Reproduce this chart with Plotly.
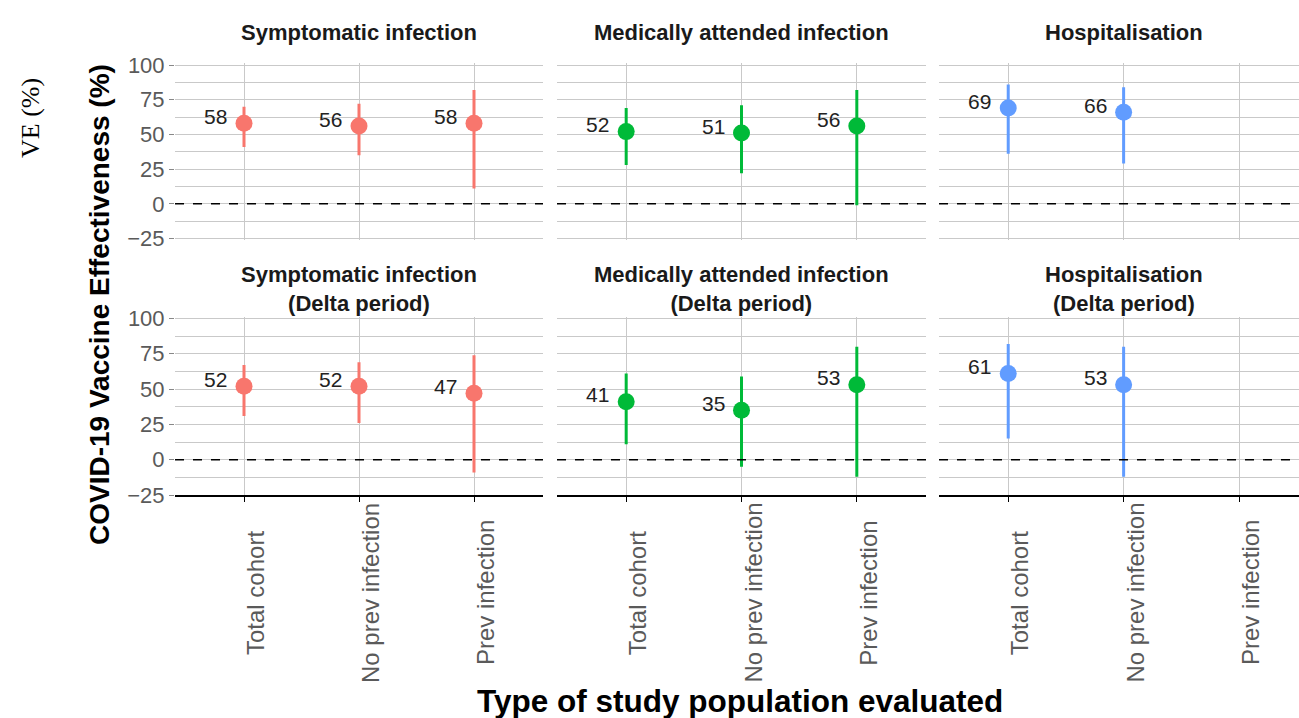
import plotly.graph_objects as go

# ---------------- data ----------------
categories = ["Total cohort", "No prev infection", "Prev infection"]
outcomes = ["Symptomatic infection", "Medically attended infection", "Hospitalisation"]
period_labels = ["", "(Delta period)"]
colors = ["#F8766D", "#00BA38", "#619CFF"]

# overall period: rows = outcome, cols = category
ve_all = [[58, 56, 58], [52, 51, 56], [69, 66, None]]
lo_all = [[41, 35, 11], [28, 22, -1], [36, 29, None]]
hi_all = [[70, 72, 82], [69, 71, 82], [86, 84, None]]

# Delta period
ve_delta = [[52, 52, 47], [41, 35, 53], [61, 53, None]]
lo_delta = [[31, 26, -9], [11, -5, -12], [15, -12, None]]
hi_delta = [[67, 69, 74], [61, 59, 80], [82, 80, None]]

y_ticks = [-25, 0, 25, 50, 75, 100]

# ---------------- layout geometry (pixels) ----------------
W, H = 1299, 718
col_px = [(175, 543), (557, 926), (939, 1299)]
row_px = [(63, 239.5), (316.5, 495)]
row_ranges = [[-25.72, 101.44], [-25.0, 101.4]]
x_ranges = [[-0.6, 2.6], [-0.6, 2.6], [-0.6, 2.52]]

FONT = "Arial, Liberation Sans, sans-serif"
GRID = "#c9c9c9"

def px_x(p):
    return p / W

def px_y(p):
    return 1 - p / H

fig = go.Figure()
annotations = []
shapes = []

panels = [
    (0, ve_all, lo_all, hi_all),
    (1, ve_delta, lo_delta, hi_delta),
]

for r, ve, lo, hi in panels:
    for c in range(3):
        n = r * 3 + c + 1
        xa = "x" if n == 1 else f"x{n}"
        ya = "y" if n == 1 else f"y{n}"
        xs, ys, ep, em = [], [], [], []
        for i in range(len(categories)):
            v = ve[c][i]
            if v is None:
                continue
            xs.append(i)
            ys.append(v)
            ep.append(hi[c][i] - v)
            em.append(v - lo[c][i])
        fig.add_trace(go.Scatter(
            x=xs, y=ys, mode="markers", xaxis=xa, yaxis=ya,
            marker=dict(size=17, color=colors[c], line=dict(width=0)),
            error_y=dict(type="data", symmetric=False, array=ep, arrayminus=em,
                         thickness=3, width=0, color=colors[c]),
            showlegend=False, hoverinfo="skip",
        ))
        # value labels
        for xi, yi in zip(xs, ys):
            annotations.append(dict(
                x=xi, y=yi, xref=xa, yref=ya, text=str(yi), showarrow=False,
                xanchor="right", yanchor="middle", xshift=-15, yshift=7,
                font=dict(family=FONT, size=21, color="#222222"),
            ))
        # zero reference line
        shapes.append(dict(
            type="line", xref=f"{xa} domain", x0=0, x1=1, yref=ya, y0=0, y1=0,
            line=dict(color="black", width=1.4, dash="dash"), layer="above",
        ))
        # axes
        x0p, x1p = col_px[c]
        y0p, y1p = row_px[r]
        bottom = r == 1
        xkey = "xaxis" if n == 1 else f"xaxis{n}"
        ykey = "yaxis" if n == 1 else f"yaxis{n}"
        fig.update_layout(**{
            xkey: dict(
                domain=[px_x(x0p), px_x(x1p)], anchor=ya, range=x_ranges[c],
                tickvals=[0, 1, 2], showticklabels=False, automargin=False,
                showgrid=True, gridcolor=GRID, gridwidth=1, zeroline=False,
                showline=bottom, linecolor="black", linewidth=1.6,
                ticks="outside" if bottom else "", ticklen=5, tickcolor="black",
                tickwidth=1.2, fixedrange=True,
            ),
            ykey: dict(
                domain=[px_y(y1p), px_y(y0p)], anchor=xa, range=row_ranges[r],
                tickvals=y_ticks, showticklabels=(c == 0), automargin=False,
                ticks="outside" if c == 0 else "", ticklen=5, tickcolor="#888888",
                tickfont=dict(family=FONT, size=22, color="#5a5a5a"),
                showgrid=True, gridcolor=GRID, gridwidth=1, zeroline=False,
                minor=dict(dtick=12.5, tick0=0, showgrid=True, gridcolor=GRID, gridwidth=1),
                showline=False, fixedrange=True,
            ),
        })
        # strip titles
        cx = px_x((x0p + x1p) / 2) if c < 2 else px_x((939 + 1308) / 2)
        tfont = dict(family=FONT, size=22, color="#1a1a1a")
        if r == 0:
            annotations.append(dict(
                x=cx, y=px_y(33), xref="paper", yref="paper", text=f"<b>{outcomes[c]}</b>",
                showarrow=False, xanchor="center", yanchor="middle", font=tfont,
            ))
        else:
            annotations.append(dict(
                x=cx, y=px_y(289), xref="paper", yref="paper",
                text=f"<b>{outcomes[c]}</b><br><b>{period_labels[1]}</b>",
                showarrow=False, xanchor="center", yanchor="middle", align="center",
                font=tfont,
            ))
            # category tick labels (rotated, centred like ggplot)
            for i, cat in enumerate(categories):
                annotations.append(dict(
                    x=i, y=px_y(593), xref=xa, yref="paper", text=cat, showarrow=False,
                    textangle=-90, xanchor="center", yanchor="middle", xshift=11,
                    font=dict(family=FONT, size=24, color="#5a5a5a"),
                ))

# axis titles
annotations.append(dict(
    x=px_x(99), y=px_y(305), xref="paper", yref="paper",
    text="<b>COVID-19 Vaccine Effectiveness (%)</b>", showarrow=False, textangle=-90,
    xanchor="center", yanchor="middle", font=dict(family=FONT, size=28, color="black"),
))
annotations.append(dict(
    x=px_x(740), y=px_y(701), xref="paper", yref="paper",
    text="<b>Type of study population evaluated</b>", showarrow=False,
    xanchor="center", yanchor="middle", font=dict(family=FONT, size=31.5, color="black"),
))
annotations.append(dict(
    x=px_x(31), y=px_y(118), xref="paper", yref="paper",
    text="VE (%)", showarrow=False, textangle=-90,
    xanchor="center", yanchor="middle",
    font=dict(family="Liberation Serif, Times New Roman, serif", size=26, color="black"),
))

fig.update_layout(
    width=W, height=H, margin=dict(l=0, r=0, t=0, b=0, pad=0, autoexpand=False),
    paper_bgcolor="white", plot_bgcolor="white", showlegend=False,
    annotations=annotations, shapes=shapes,
)

fig.write_html(
    "out.html",
    config={"displayModeBar": False},
    post_script="document.body.style.margin='0';document.body.style.overflow='hidden';",
)
